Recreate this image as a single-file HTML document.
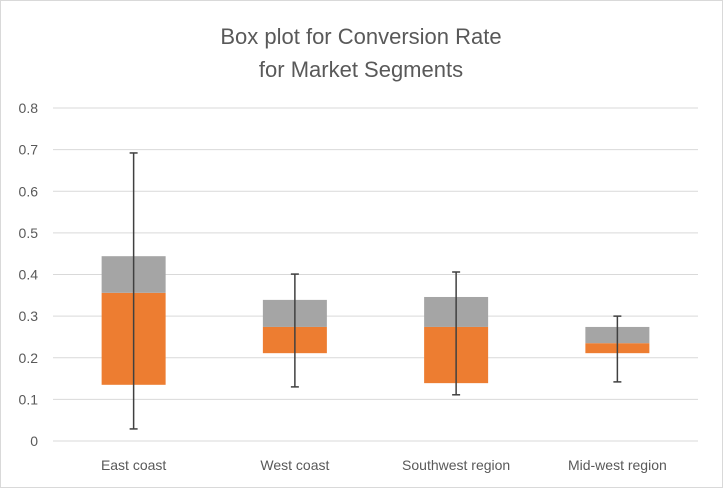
<!DOCTYPE html>
<html><head><meta charset="utf-8"><style>
html,body{margin:0;padding:0;background:#fff;}
svg{display:block;font-family:"Liberation Sans",sans-serif;}
</style></head><body>
<svg id="chart" width="724" height="489">
<rect x="0.5" y="0.5" width="722" height="487" fill="#fff" stroke="#d9d9d9"/>
<text x="361" y="44" text-anchor="middle" font-size="22" fill="#595959">Box plot for Conversion Rate</text>
<text x="361" y="77" text-anchor="middle" font-size="22" fill="#595959">for Market Segments</text>
<g id="grid"></g><g id="marks"></g><g id="labels"></g>
</svg>
<script>
const categories=["East coast","West coast","Southwest region","Mid-west region"];
const q1=[0.135,0.211,0.139,0.211];
const median=[0.356,0.274,0.274,0.235];
const q3=[0.444,0.339,0.346,0.274];
const whiskerMin=[0.029,0.130,0.111,0.142];
const whiskerMax=[0.692,0.401,0.406,0.300];
const yTicks=[0,0.1,0.2,0.3,0.4,0.5,0.6,0.7,0.8];
const yTickLabels=["0","0.1","0.2","0.3","0.4","0.5","0.6","0.7","0.8"];

const NS="http://www.w3.org/2000/svg";
const plotL=53,plotR=698,y0=441,y1=108;
function y(v){return y0-(v/0.8)*(y0-y1);}
const band=(plotR-plotL)/categories.length;
function xc(i){return plotL+band*(i+0.5);}
function mk(tag,attrs,parent){const e=document.createElementNS(NS,tag);for(const k in attrs)e.setAttribute(k,attrs[k]);parent.appendChild(e);return e;}
const grid=document.getElementById('grid'),marks=document.getElementById('marks'),labels=document.getElementById('labels');
yTicks.forEach((t,i)=>{
  const l=mk('line',{x1:plotL,x2:plotR,y1:y(t),y2:y(t),stroke:'#d9d9d9','stroke-width':1},grid);
  
  
  const tx=mk('text',{x:38,y:y(t)+5,'text-anchor':'end','font-size':14,fill:'#595959'},labels);
  tx.textContent=yTickLabels[i];
  
  
});
const bw=64;
categories.forEach((c,i)=>{
  const x=xc(i);
  const o=mk('rect',{x:x-bw/2,y:y(median[i]),width:bw,height:y(q1[i])-y(median[i]),fill:'#ed7d31'},marks);
  
  
  const g=mk('rect',{x:x-bw/2,y:y(q3[i]),width:bw,height:y(median[i])-y(q3[i]),fill:'#a5a5a5'},marks);
  
  
  const w=mk('line',{x1:x,x2:x,y1:y(whiskerMin[i]),y2:y(whiskerMax[i]),stroke:'#404040','stroke-width':1.5},marks);
  
  
  [whiskerMin[i],whiskerMax[i]].forEach(v=>{
    const cap=mk('line',{x1:x-4,x2:x+4,y1:y(v),y2:y(v),stroke:'#404040','stroke-width':1.5},marks);
    
    
  });
  const t=mk('text',{x:x,y:470,'text-anchor':'middle','font-size':14,fill:'#595959'},labels);
  t.textContent=c;
  
  
});
</script>
</body></html>
